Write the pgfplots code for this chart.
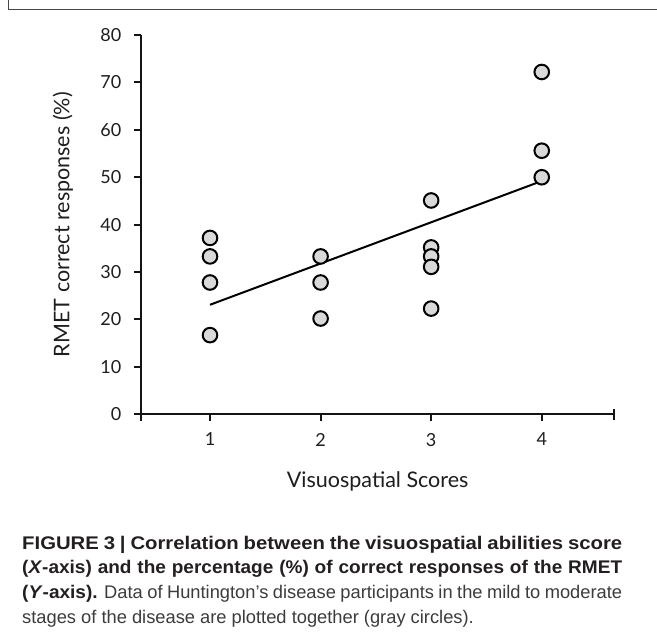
\documentclass[border=0pt]{standalone}
\usepackage{pgfplots}
\pgfplotsset{compat=1.18}
\usepackage{fontspec}
\setmainfont{Lato}
\newfontfamily\capfont{Liberation Sans}
\newfontfamily\capbf[FakeStretch=1.04]{Liberation Sans}
\newfontfamily\capbfw[FakeStretch=1.11]{Liberation Sans}
\definecolor{ptfill}{RGB}{217,217,217}
\definecolor{axcol}{RGB}{20,20,20}
\definecolor{txtcol}{RGB}{30,30,30}
\definecolor{capbold}{RGB}{35,31,32}
\definecolor{capreg}{RGB}{60,60,60}
\definecolor{framecol}{RGB}{70,70,70}
\begin{document}
\begin{tikzpicture}
\useasboundingbox (0pt,0pt) rectangle (657pt,641pt);
\fill[white] (0pt,0pt) rectangle (657pt,641pt);
\draw[framecol, line width=1.3pt] (8.3pt,641pt) -- (8.3pt,631.7pt) -- (657pt,631.7pt);
\begin{axis}[
  at={(141pt,226.7pt)}, anchor=south west,
  scale only axis, width=473.3pt, height=379.3pt,
  xmin=0.376, xmax=4.656, ymin=0, ymax=80,
  axis x line*=bottom, axis y line*=left,
  axis line style={axcol, line width=2.3pt},
  every tick/.style={axcol, line width=2pt},
  tick align=outside, major tick length=6.5pt,
  xtick={0.376,1,2,3,4}, xticklabels={,1,2,3,4},
  ytick={0,10,...,80},
  extra x ticks={4.656}, extra x tick labels={},
  extra x tick style={tick align=center, major tick length=11pt},
  /pgf/number format/assume math mode=true,
  tick label style={font=\fontsize{18}{20}\selectfont, text=txtcol},
  yticklabel style={anchor=east, inner sep=0pt, xshift=-13pt},
  xticklabel style={anchor=north, inner sep=0pt, yshift=-12pt},
  xlabel={Visuospatial Scores},
  ylabel={RMET correct responses (\%)},
  label style={font=\fontsize{21.5}{24}\selectfont, text=txtcol},
  xlabel style={at={(axis description cs:0.5,-0.1943)}, anchor=base},
  ylabel style={at={(axis description cs:-0.1648,0.5)}, anchor=center},
  clip=false,
]
\addplot[black, line width=2pt] coordinates {(1,23.1) (4,49.2)};
\addplot[only marks, mark=*, mark size=7.3pt,
  mark options={fill=ptfill, draw=black, line width=2pt}] table {
x y
1 37.2
1 33.3
1 27.8
1 16.7
2 33.3
2 27.8
2 20.2
3 45.1
3 35.2
3 33.3
3 31.1
3 22.3
4 72.2
4 55.6
4 50.0
};
\end{axis}
\begin{scope}[every node/.style={anchor=base west, inner sep=0pt, font=\capfont\fontsize{18.3}{24.8}\selectfont}]
\node[text=capbold] at (22pt,92pt) {\hbox to 600pt{\capbfw\bfseries FIGURE 3 | Correlation between the visuospatial abilities score}};
\node[text=capbold] at (22pt,67pt) {\hbox to 600pt{\capbf\bfseries (\textit{X}-axis) and the percentage (\%) of correct responses of the RMET}};
\node[text=capreg] at (22pt,42pt) {\hbox to 600pt{{\color{capbold}\capbf\bfseries (\textit{Y}-axis).} Data of Huntington’s disease participants in the mild to moderate}};
\node[text=capreg] at (22pt,17.5pt) {stages of the disease are plotted together (gray circles).};
\end{scope}
\end{tikzpicture}
\end{document}
